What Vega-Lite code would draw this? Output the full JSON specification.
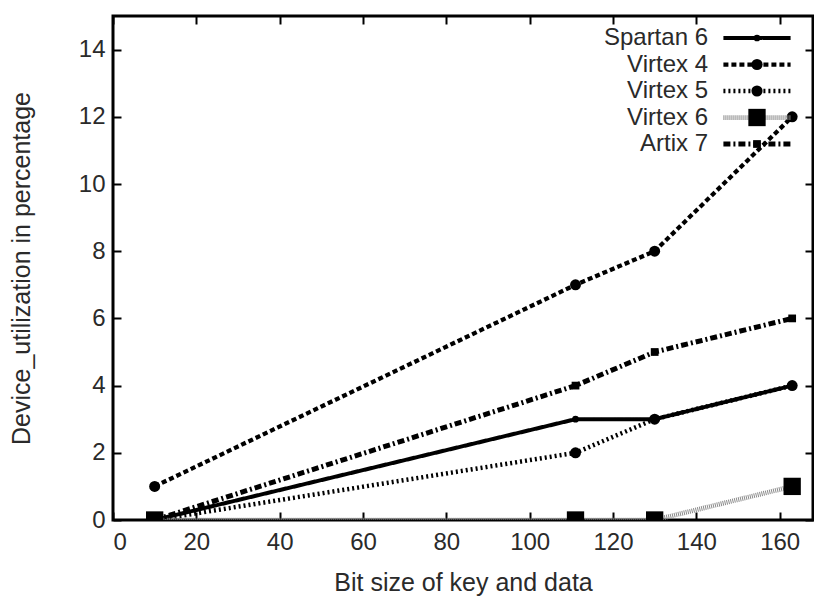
{
  "$schema": "https://vega.github.io/schema/vega-lite/v6.json",
  "width": 700,
  "height": 504,
  "autosize": {"type": "none"},
  "padding": {"left": 113, "top": 16, "right": 1, "bottom": 77},
  "background": "white",
  "config": {
    "font": "Liberation Sans",
    "view": {"stroke": "black", "strokeWidth": 3},
    "axis": {"grid": false, "domain": false, "tickColor": "black", "tickWidth": 2, "labelFont": "Liberation Sans", "titleFont": "Liberation Sans", "labelFontSize": 24, "titleFontSize": 25, "labelColor": "#2a2a2a", "titleColor": "#2a2a2a", "titleFontWeight": "normal"}
  },
  "data": {
    "values": [
      {"series": "Spartan 6", "x": 10, "y": 0},
      {"series": "Spartan 6", "x": 111, "y": 3},
      {"series": "Spartan 6", "x": 130, "y": 3},
      {"series": "Spartan 6", "x": 163, "y": 4},
      {"series": "Virtex 4", "x": 10, "y": 1},
      {"series": "Virtex 4", "x": 111, "y": 7},
      {"series": "Virtex 4", "x": 130, "y": 8},
      {"series": "Virtex 4", "x": 163, "y": 12},
      {"series": "Virtex 5", "x": 10, "y": 0},
      {"series": "Virtex 5", "x": 111, "y": 2},
      {"series": "Virtex 5", "x": 130, "y": 3},
      {"series": "Virtex 5", "x": 163, "y": 4},
      {"series": "Virtex 6", "x": 10, "y": 0},
      {"series": "Virtex 6", "x": 111, "y": 0},
      {"series": "Virtex 6", "x": 130, "y": 0},
      {"series": "Virtex 6", "x": 163, "y": 1},
      {"series": "Artix 7", "x": 10, "y": 0},
      {"series": "Artix 7", "x": 111, "y": 4},
      {"series": "Artix 7", "x": 130, "y": 5},
      {"series": "Artix 7", "x": 163, "y": 6}
    ]
  },
  "layer": [
    {
      "mark": {"type": "line", "clip": true},
      "encoding": {
        "x": {"field": "x", "type": "quantitative", "scale": {"domain": [0, 168], "nice": false, "zero": false},
              "axis": {"values": [0, 20, 40, 60, 80, 100, 120, 140, 160], "tickSize": -8, "labelPadding": 18, "title": "Bit size of key and data", "titlePadding": 16}},
        "y": {"field": "y", "type": "quantitative", "scale": {"domain": [0, 15], "nice": false},
              "axis": {"values": [0, 2, 4, 6, 8, 10, 12, 14], "tickSize": -8, "labelPadding": 16, "title": "Device_utilization in percentage", "titlePadding": 44}},
        "color": {"field": "series", "type": "nominal",
                  "scale": {"domain": ["Spartan 6", "Virtex 4", "Virtex 5", "Virtex 6", "Artix 7"], "range": ["black", "black", "black", "#8a8a8a", "black"]},
                  "legend": {"orient": "none", "legendX": 632, "legendY": 10, "direction": "vertical", "title": null, "symbolType": "M-4,0H4", "symbolSize": 282, "labelAlign": "right", "labelOffset": -61, "labelFontSize": 24, "labelColor": "#2a2a2a", "rowPadding": 2.5, "padding": 0, "labelLimit": 200}},
        "strokeDash": {"field": "series", "type": "nominal",
                  "scale": {"domain": ["Spartan 6", "Virtex 4", "Virtex 5", "Virtex 6", "Artix 7"], "range": [[1, 0], [5, 3], [2, 3], [1, 1], [7, 3, 2, 3]]}},
        "strokeWidth": {"field": "series", "type": "nominal",
                  "scale": {"domain": ["Spartan 6", "Virtex 4", "Virtex 5", "Virtex 6", "Artix 7"], "range": [4, 5, 5, 4, 4]}}
      }
    },
    {
      "transform": [{"filter": "datum.series === 'Spartan 6'"}],
      "mark": {"type": "point", "shape": "circle", "filled": true, "opacity": 1, "color": "black", "size": 45, "clip": true},
      "encoding": {
        "x": {"field": "x", "type": "quantitative", "axis": {"orient": "top", "values": [0, 20, 40, 60, 80, 100, 120, 140, 160], "tickSize": -8, "labels": false, "title": null}},
        "y": {"field": "y", "type": "quantitative", "axis": {"orient": "right", "values": [0, 2, 4, 6, 8, 10, 12, 14], "tickSize": -8, "labels": false, "title": null}}
      }
    },
    {
      "transform": [{"filter": "datum.series === 'Virtex 4' || datum.series === 'Virtex 5'"}],
      "mark": {"type": "point", "shape": "circle", "filled": true, "opacity": 1, "color": "black", "size": 120, "clip": true},
      "encoding": {
        "x": {"field": "x", "type": "quantitative", "axis": null},
        "y": {"field": "y", "type": "quantitative", "axis": null}
      }
    },
    {
      "transform": [{"filter": "datum.series === 'Virtex 6'"}],
      "mark": {"type": "point", "shape": "square", "filled": true, "opacity": 1, "color": "black", "size": 300, "clip": true},
      "encoding": {
        "x": {"field": "x", "type": "quantitative", "axis": null},
        "y": {"field": "y", "type": "quantitative", "axis": null}
      }
    },
    {
      "transform": [{"filter": "datum.series === 'Artix 7'"}],
      "mark": {"type": "point", "shape": "square", "filled": true, "opacity": 1, "color": "black", "size": 60, "clip": true},
      "encoding": {
        "x": {"field": "x", "type": "quantitative", "axis": null},
        "y": {"field": "y", "type": "quantitative", "axis": null}
      }
    },
    {
      "mark": {"type": "point", "filled": true, "opacity": 0, "color": "black", "clip": true},
      "encoding": {
        "x": {"field": "x", "type": "quantitative", "axis": null},
        "y": {"field": "y", "type": "quantitative", "axis": null},
        "shape": {"field": "series", "type": "nominal",
                  "scale": {"domain": ["Spartan 6", "Virtex 4", "Virtex 5", "Virtex 6", "Artix 7", "-"], "range": ["circle", "circle", "circle", "square", "square", "circle"]},
                  "legend": {"orient": "none", "legendX": 632, "legendY": 10, "direction": "vertical", "title": null, "values": ["Spartan 6", "Virtex 4", "Virtex 5", "Virtex 6", "Artix 7"], "labelExpr": "''", "labelFontSize": 24, "rowPadding": 2.5, "padding": 0, "symbolFillColor": "black", "symbolStrokeColor": "black", "symbolOpacity": 1, "symbolStrokeWidth": 0}},
        "size": {"field": "series", "type": "nominal",
                  "scale": {"type": "ordinal", "domain": ["Spartan 6", "Virtex 4", "Virtex 5", "Virtex 6", "Artix 7", "-"], "range": [45, 125, 125, 300, 60, 0]},
                  "legend": {"orient": "none", "legendX": 632, "legendY": 10, "direction": "vertical", "title": null, "values": ["Spartan 6", "Virtex 4", "Virtex 5", "Virtex 6", "Artix 7"], "labelExpr": "''", "labelFontSize": 24, "rowPadding": 2.5, "padding": 0, "symbolFillColor": "black", "symbolStrokeColor": "black", "symbolOpacity": 1, "symbolStrokeWidth": 0}}
      }
    }
  ],
  "resolve": {"axis": {"x": "independent", "y": "independent"}}
}
